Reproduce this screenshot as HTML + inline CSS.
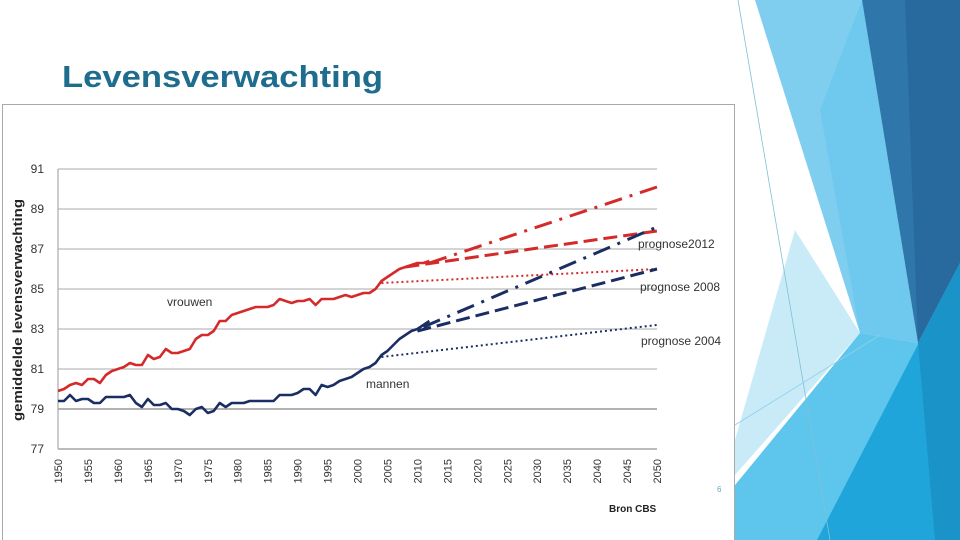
<!DOCTYPE html>
<html><head><meta charset="utf-8"><style>
html,body{margin:0;padding:0;width:960px;height:540px;overflow:hidden;background:#fff;font-family:"Liberation Sans",sans-serif}
svg{display:block}
</style></head><body>
<svg id="s" width="960" height="540" viewBox="0 0 960 540">
<g>
<polygon points="795,230 860,333 735,475 735,440" fill="#c9ebf8"/>
<polygon points="755,0 862,0 918,343 860,333" fill="#7fcef0"/>
<polygon points="820,110 862,0 918,343 860,333" fill="#64c6ec" opacity="0.6"/>
<polygon points="862,0 960,0 960,263 918,343" fill="#2f77aa"/>
<polygon points="905,0 960,0 960,263 918,343" fill="#286a9e"/>
<polygon points="735,485 860,333 918,343 960,263 960,540 735,540" fill="#5ec6ec"/>
<polygon points="960,263 817,540 960,540" fill="#1fa5da"/>
<polygon points="918,343 960,263 960,540 935,540" fill="#1a93c8"/>
<line x1="738" y1="0" x2="830" y2="540" stroke="#7fbfd8" stroke-width="0.8"/>
<line x1="735" y1="425" x2="880" y2="335" stroke="#8fd0ea" stroke-width="0.8"/>
</g>
<text x="62" y="87" font-size="31" font-weight="bold" fill="#1f6d8e" textLength="321" lengthAdjust="spacingAndGlyphs">Levensverwachting</text>
<rect x="2.5" y="104.5" width="732" height="440" fill="#fff" stroke="#aaa"/>
<g id="chart"></g>
<text x="22" y="310" font-size="13" font-weight="bold" fill="#222" text-anchor="middle" transform="rotate(-90 22 310)" textLength="222" lengthAdjust="spacingAndGlyphs">gemiddelde levensverwachting</text>
<text x="167" y="306" font-size="12" fill="#333">vrouwen</text>
<text x="366" y="388" font-size="12" fill="#333">mannen</text>
<text x="638" y="248" font-size="12" fill="#333">prognose2012</text>
<text x="640" y="291" font-size="12" fill="#333">prognose 2008</text>
<text x="641" y="345" font-size="12" fill="#333">prognose 2004</text>
<text x="609" y="512" font-size="10" font-weight="bold" fill="#222">Bron CBS</text>
<text x="717" y="492" font-size="8" fill="#6ab">6</text>
</svg>
<script>
const years = [1950,1951,1952,1953,1954,1955,1956,1957,1958,1959,1960,1961,1962,1963,1964,1965,1966,1967,1968,1969,1970,1971,1972,1973,1974,1975,1976,1977,1978,1979,1980,1981,1982,1983,1984,1985,1986,1987,1988,1989,1990,1991,1992,1993,1994,1995,1996,1997,1998,1999,2000,2001,2002,2003,2004,2005,2006,2007,2008,2009,2010,2011,2012];
const vrouwen = [79.9,80.0,80.2,80.3,80.2,80.5,80.5,80.3,80.7,80.9,81.0,81.1,81.3,81.2,81.2,81.7,81.5,81.6,82.0,81.8,81.8,81.9,82.0,82.5,82.7,82.7,82.9,83.4,83.4,83.7,83.8,83.9,84.0,84.1,84.1,84.1,84.2,84.5,84.4,84.3,84.4,84.4,84.5,84.2,84.5,84.5,84.5,84.6,84.7,84.6,84.7,84.8,84.8,85.0,85.4,85.6,85.8,86.0,86.1,86.2,86.3,86.3,86.4];
const mannen = [79.4,79.4,79.7,79.4,79.5,79.5,79.3,79.3,79.6,79.6,79.6,79.6,79.7,79.3,79.1,79.5,79.2,79.2,79.3,79.0,79.0,78.9,78.7,79.0,79.1,78.8,78.9,79.3,79.1,79.3,79.3,79.3,79.4,79.4,79.4,79.4,79.4,79.7,79.7,79.7,79.8,80.0,80.0,79.7,80.2,80.1,80.2,80.4,80.5,80.6,80.8,81.0,81.1,81.3,81.7,81.9,82.2,82.5,82.7,82.9,83.0,83.2,83.4];
const progYears = [[2004,2050],[2008,2050],[2012,2050],[2004,2050],[2010,2050],[2011,2050]];
const progValues = [[85.3,86.0],[86.1,87.9],[86.3,90.1],[81.6,83.2],[82.9,86.0],[83.1,88.1]];
const progNames = ['vrouwen-prognose-2004','vrouwen-prognose-2008','vrouwen-prognose-2012','mannen-prognose-2004','mannen-prognose-2008','mannen-prognose-2012'];
const yTicks = [77,79,81,83,85,87,89,91];
const xTicks = [1950,1955,1960,1965,1970,1975,1980,1985,1990,1995,2000,2005,2010,2015,2020,2025,2030,2035,2040,2045,2050];

const NS='http://www.w3.org/2000/svg';
const g=document.getElementById('chart');
const X=y=>58+(y-1950)*(599/100);
const Y=v=>449-(v-77)*20;
function mk(t,a){const e=document.createElementNS(NS,t);for(const k in a)e.setAttribute(k,a[k]);g.appendChild(e);return e;}
yTicks.forEach(t=>{
  const l=mk('line',{x1:58,x2:657,y1:Y(t),y2:Y(t),stroke:t===77?'#bbb':(t===79?'#999':'#aaa'),'stroke-width':t===79?1.6:1});
  
  
  const tx=mk('text',{x:44,y:Y(t)+4,'font-size':12,fill:'#333','text-anchor':'end'});
  tx.textContent=t;
  
  
});
const ax=mk('line',{x1:58,x2:58,y1:Y(91),y2:Y(77),stroke:'#999','stroke-width':1});


const bx=mk('line',{x1:58,x2:657,y1:Y(77),y2:Y(77),stroke:'#bbb','stroke-width':2});


xTicks.forEach(t=>{
  const x=X(t)+4,y=459;
  const tx=mk('text',{x:x,y:y,'font-size':11,fill:'#333','text-anchor':'end',transform:`rotate(-90 ${x} ${y})`});
  tx.textContent=t;
  
  
});
function series(vals,color,name){
  const d=vals.map((v,i)=>(i?'L':'M')+X(years[i]).toFixed(1)+','+Y(v).toFixed(1)).join('');
  const p=mk('path',{d:d,fill:'none',stroke:color,'stroke-width':2.6,'stroke-linejoin':'round'});
  
  
}
const dashes=['2,3','14,6','18,8,3,8'];
progValues.forEach((pv,i)=>{
  const col=i<3?'#d42a2a':'#1b2e63';
  const p=mk('line',{x1:X(progYears[i][0]),y1:Y(pv[0]),x2:X(progYears[i][1]),y2:Y(pv[1]),stroke:col,'stroke-width':i%3===0?2:3,'stroke-dasharray':dashes[i%3]});
  
  
});
series(vrouwen,'#d42a2a','series-vrouwen');
series(mannen,'#1b2e63','series-mannen');
</script>
</body></html>
